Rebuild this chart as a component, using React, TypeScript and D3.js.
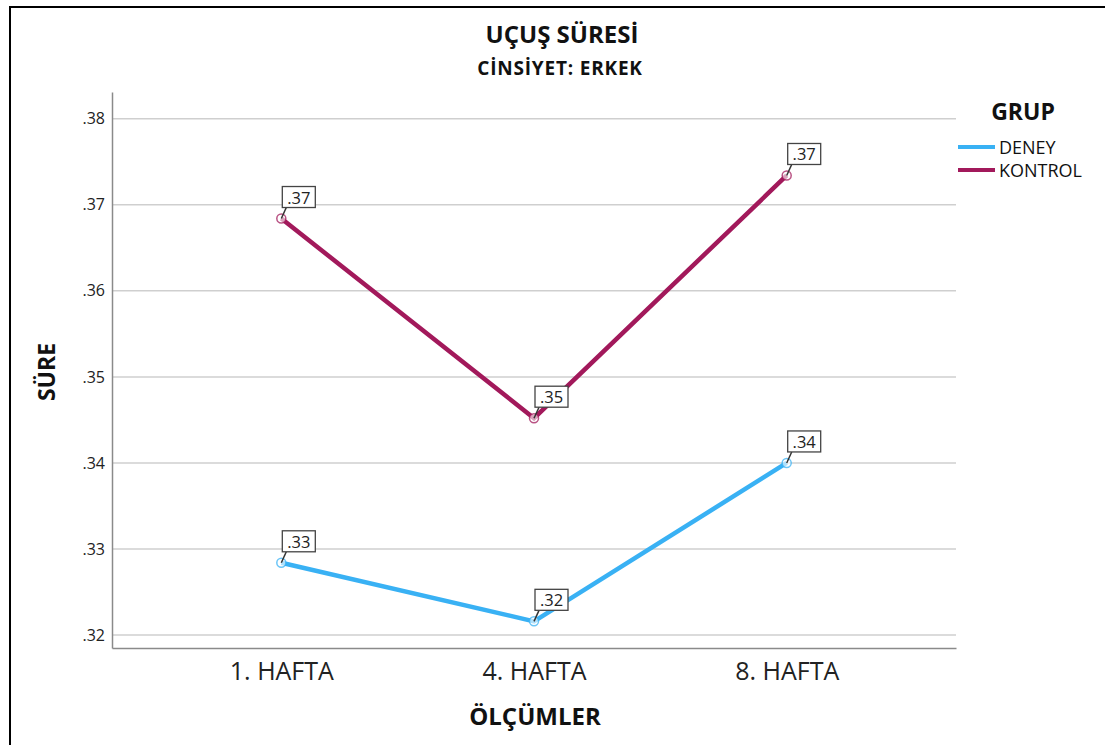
import React, { useEffect, useRef } from "react";
import * as d3 from "d3";

const weeks = ["1. HAFTA", "4. HAFTA", "8. HAFTA"];
const deney = [0.3284, 0.3216, 0.34];
const kontrol = [0.3684, 0.3452, 0.3734];
const yTicks = [0.32, 0.33, 0.34, 0.35, 0.36, 0.37, 0.38];

const series = [
  { name: "DENEY", values: deney, color: "#39b1f4" },
  { name: "KONTROL", values: kontrol, color: "#a2195b" },
];

const App: React.FC = () => {
  const svgRef = useRef<SVGSVGElement>(null);

  useEffect(() => {
    if (!svgRef.current) return;
    const svg = d3.select(svgRef.current);
    svg.selectAll("*").remove();

    const font = "'Open Sans', 'DejaVu Sans', sans-serif";
    const left = 112, right = 956, top = 92, bottom = 648;
    const fmt = (v: number) => d3.format(".2f")(v).replace(/^0/, "");

    // frame
    svg.append("rect")
      .attr("x", 10).attr("y", 7)
      .attr("width", 1200).attr("height", 800)
      .attr("fill", "#fff").attr("stroke", "#000").attr("stroke-width", 2);

    const x = d3.scalePoint<string>().domain(weeks).range([left, right]).padding(0.67);
    const y = d3.scaleLinear().domain([0.3185, 0.3831]).range([bottom, top]);

    const g = svg.append("g");

    // grid
    g.selectAll("line.grid")
      .data(yTicks)
      .enter()
      .append("line")
      .attr("x1", left).attr("x2", right)
      .attr("y1", d => y(d)).attr("y2", d => y(d))
      .attr("stroke", "#cfcfcf").attr("stroke-width", 1.5);

    // axes
    const yAxis = g.append("g")
      .attr("transform", `translate(${left},0)`)
      .call(d3.axisLeft(y).tickValues(yTicks).tickSize(0).tickPadding(7)
        .tickFormat(d => fmt(d as number)));
    yAxis.select(".domain").attr("stroke", "#8a8a8a").attr("stroke-width", 1.5);
    yAxis.selectAll("text").attr("font-family", font).attr("font-size", 16).attr("fill", "#222");

    const xAxis = g.append("g")
      .attr("transform", `translate(0,${bottom})`)
      .call(d3.axisBottom(x).tickSize(0).tickPadding(14));
    xAxis.select(".domain").attr("stroke", "#8a8a8a").attr("stroke-width", 1.5);
    xAxis.selectAll("text").attr("font-family", font).attr("font-size", 25).attr("fill", "#222");

    // lines
    const line = d3.line<number>()
      .x((_, i) => x(weeks[i]) as number)
      .y(d => y(d));

    series.forEach(s => {
      g.append("path")
        .datum(s.values)
        .attr("d", line)
        .attr("fill", "none")
        .attr("stroke", s.color)
        .attr("stroke-width", 4.5);

      g.selectAll(null)
        .data(s.values)
        .enter()
        .append("circle")
        .attr("cx", (_, i) => x(weeks[i]) as number)
        .attr("cy", d => y(d))
        .attr("r", 4.5)
        .attr("fill", "#fff")
        .attr("fill-opacity", 0.6)
        .attr("stroke", s.color)
        .attr("stroke-opacity", 0.75)
        .attr("stroke-width", 1.5);

      const lab = g.selectAll(null)
        .data(s.values)
        .enter()
        .append("g")
        .attr("transform", (d, i) => `translate(${x(weeks[i])},${y(d)})`);
      lab.append("line")
        .attr("x1", 0).attr("y1", 0).attr("x2", 5).attr("y2", -11)
        .attr("stroke", "#333").attr("stroke-width", 1.5);
      lab.append("rect")
        .attr("x", 1).attr("y", -32)
        .attr("width", 33).attr("height", 21)
        .attr("fill", "#fff").attr("stroke", "#444").attr("stroke-width", 1.3);
      lab.append("text")
        .attr("x", 17.5).attr("y", -15)
        .attr("text-anchor", "middle")
        .attr("font-family", font).attr("font-size", 16.5).attr("fill", "#222")
        .text(d => fmt(d));
    });

    // titles
    svg.append("text")
      .attr("x", 562).attr("y", 43)
      .attr("text-anchor", "middle")
      .attr("font-family", font).attr("font-weight", "bold").attr("font-size", 24)
      .attr("fill", "#111")
      .text("UÇUŞ SÜRESİ");
    svg.append("text")
      .attr("x", 560).attr("y", 75)
      .attr("text-anchor", "middle")
      .attr("font-family", font).attr("font-weight", "bold").attr("font-size", 19)
      .attr("letter-spacing", 0.8)
      .attr("fill", "#111")
      .text("CİNSİYET: ERKEK");
    svg.append("text")
      .attr("transform", "translate(55,372) rotate(-90)")
      .attr("text-anchor", "middle")
      .attr("font-family", font).attr("font-weight", "bold").attr("font-size", 23)
      .attr("fill", "#111")
      .text("SÜRE");
    svg.append("text")
      .attr("x", 535).attr("y", 725)
      .attr("text-anchor", "middle")
      .attr("font-family", font).attr("font-weight", "bold").attr("font-size", 24)
      .attr("fill", "#111")
      .text("ÖLÇÜMLER");

    // legend
    svg.append("text")
      .attr("x", 1023).attr("y", 120)
      .attr("text-anchor", "middle")
      .attr("font-family", font).attr("font-weight", "bold").attr("font-size", 23)
      .attr("fill", "#111")
      .text("GRUP");
    const leg = svg.selectAll(null)
      .data(series)
      .enter()
      .append("g")
      .attr("transform", (_, i) => `translate(958,${147 + i * 23})`);
    leg.append("line")
      .attr("x1", 0).attr("x2", 37).attr("y1", 0).attr("y2", 0)
      .attr("stroke", d => d.color).attr("stroke-width", 4);
    leg.append("text")
      .attr("x", 41).attr("y", 7)
      .attr("font-family", font).attr("font-size", 18).attr("fill", "#111")
      .text(d => d.name);
  }, []);

  return (
    <svg
      ref={svgRef}
      width={1105}
      height={745}
      style={{ position: "absolute", left: 0, top: 0 }}
    />
  );
};

export default App;
